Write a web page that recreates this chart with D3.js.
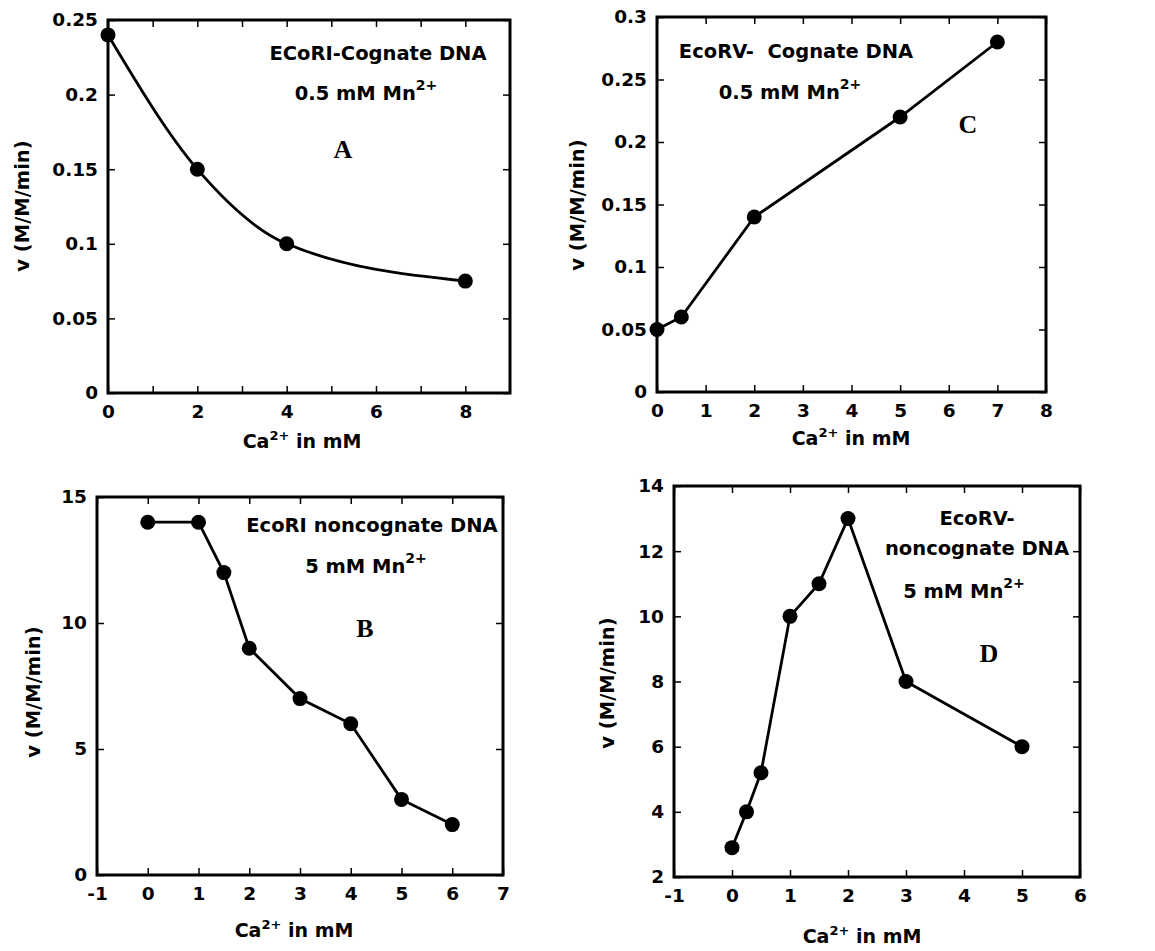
<!DOCTYPE html>
<html>
<head>
<meta charset="utf-8">
<script src="https://cdn.jsdelivr.net/npm/d3@7"></script>
<style>
  body { margin: 0; background: #fff; }
  svg text { font-family: "DejaVu Sans", sans-serif; font-weight: bold; fill: #000; white-space: pre; }
</style>
</head>
<body>
<svg id="chart" width="1155" height="951"></svg>
<script>
// data
var caA = [0, 2, 4, 8];
var vA = [0.24, 0.15, 0.1, 0.075];

var caB = [0, 1, 1.5, 2, 3, 4, 5, 6];
var vB = [14, 14, 12, 9, 7, 6, 3, 2];

var caC = [0, 0.5, 2, 5, 7];
var vC = [0.05, 0.06, 0.14, 0.22, 0.28];

var caD = [0, 0.25, 0.5, 1, 1.5, 2, 3, 5];
var vD = [2.9, 4, 5.2, 10, 11, 13, 8, 6];

var xTicksA = [0, 1, 2, 3, 4, 5, 6, 7, 8];
var yTicksA = [0, 0.05, 0.1, 0.15, 0.2, 0.25];
var xTicksB = [-1, 0, 1, 2, 3, 4, 5, 6, 7];
var yTicksB = [0, 5, 10, 15];
var xTicksC = [0, 1, 2, 3, 4, 5, 6, 7, 8];
var yTicksC = [0, 0.05, 0.1, 0.15, 0.2, 0.25, 0.3];
var xTicksD = [-1, 0, 1, 2, 3, 4, 5, 6];
var yTicksD = [2, 4, 6, 8, 10, 12, 14];

var notesA = ["ECoRI-Cognate DNA", "0.5 mM Mn"];
var notesB = ["EcoRI noncognate DNA", "5 mM Mn"];
var notesC = ["EcoRV-  Cognate DNA", "0.5 mM Mn"];
var notesD = ["EcoRV-", "noncognate DNA", "5 mM Mn"];

var svg = d3.select("#chart");

function fmt(d) { return String(+d.toFixed(2)); }

function drawPanel(p) {
    var x = d3.scaleLinear().domain(p.xDomain).range([p.left, p.right]);
    var y = d3.scaleLinear().domain(p.yDomain).range([p.bottom, p.top]);
    var g = svg.append("g");
    var tk = 7;

    var xAxis = d3.axisBottom(x).tickValues(p.xTicks).tickSizeInner(-tk).tickSizeOuter(0).tickPadding(12)
        .tickFormat(function (d) { return p.xLabelEvery && d % p.xLabelEvery !== 0 ? "" : fmt(d); });
    var yAxis = d3.axisLeft(y).tickValues(p.yTicks).tickSizeInner(-tk).tickSizeOuter(0).tickPadding(10)
        .tickFormat(fmt);

    g.append("g").attr("transform", "translate(0," + p.bottom + ")").call(xAxis);
    g.append("g").attr("transform", "translate(" + p.left + ",0)").call(yAxis);
    g.append("g").attr("transform", "translate(0," + p.top + ")")
        .call(d3.axisTop(x).tickValues(p.xTicks).tickSizeInner(-tk).tickSizeOuter(0).tickFormat(""));
    g.append("g").attr("transform", "translate(" + p.right + ",0)")
        .call(d3.axisRight(y).tickValues(p.yTicks).tickSizeInner(-tk).tickSizeOuter(0).tickFormat(""));

    g.selectAll(".domain").remove();
    g.selectAll(".tick line").attr("stroke", "#000").attr("stroke-width", 1.5);
    g.selectAll(".tick text").style("font-size", "18.5px");

    g.append("rect")
        .attr("x", p.left).attr("y", p.top)
        .attr("width", p.right - p.left).attr("height", p.bottom - p.top)
        .attr("fill", "none").attr("stroke", "#000").attr("stroke-width", 3);

    var pts = p.xs.map(function (d, i) { return [d, p.ys[i]]; });
    var line = d3.line()
        .x(function (d) { return x(d[0]); })
        .y(function (d) { return y(d[1]); })
        .curve(p.curve || d3.curveLinear);

    g.append("path").datum(pts)
        .attr("d", line)
        .attr("fill", "none").attr("stroke", "#000").attr("stroke-width", 2.8);

    g.selectAll("circle.pt").data(pts).enter().append("circle")
        .attr("class", "pt")
        .attr("cx", function (d) { return x(d[0]); })
        .attr("cy", function (d) { return y(d[1]); })
        .attr("r", 7.5)
        .attr("fill", "#000");

    // axis titles
    var xl = g.append("text").attr("x", p.xLab[0]).attr("y", p.xLab[1])
        .attr("text-anchor", "middle").style("font-size", "19px");
    xl.append("tspan").text("Ca");
    xl.append("tspan").attr("dy", -8).style("font-size", "13px").text("2+");
    xl.append("tspan").attr("dy", 8).text(" in mM");

    g.append("text")
        .attr("transform", "translate(" + p.yLab[0] + "," + p.yLab[1] + ") rotate(-90)")
        .attr("text-anchor", "middle").attr("dy", "0.35em")
        .style("font-size", "19.5px")
        .text("v (M/M/min)");

    // notes
    p.notes.forEach(function (t, i) {
        var pos = p.notePos[i];
        var tx = g.append("text").attr("x", pos[0]).attr("y", pos[1])
            .attr("text-anchor", "middle").style("font-size", "19.5px");
        tx.append("tspan").text(t);
        if (i === p.notes.length - 1) {
            tx.append("tspan").attr("dy", -10).style("font-size", "14px").text("2+");
        }
    });

    g.append("text").attr("x", p.letterPos[0]).attr("y", p.letterPos[1])
        .attr("text-anchor", "middle")
        .style("font-family", "'Liberation Serif', serif")
        .style("font-size", "26px")
        .text(p.letter);
}

drawPanel({
    left: 108, right: 510, top: 20, bottom: 393,
    xDomain: [0, 9], yDomain: [0, 0.25], xTicks: xTicksA, yTicks: yTicksA, xLabelEvery: 2,
    xs: caA, ys: vA, curve: d3.curveMonotoneX,
    xLab: [302, 448], yLab: [22, 206],
    notes: notesA, notePos: [[378, 60], [366, 100]],
    letter: "A", letterPos: [343, 158]
});

drawPanel({
    left: 657, right: 1046, top: 17, bottom: 392,
    xDomain: [0, 8], yDomain: [0, 0.3], xTicks: xTicksC, yTicks: yTicksC,
    xs: caC, ys: vC,
    xLab: [851, 445], yLab: [577, 205],
    notes: notesC, notePos: [[796, 58], [790, 99]],
    letter: "C", letterPos: [968, 133]
});

drawPanel({
    left: 97, right: 503, top: 497, bottom: 875,
    xDomain: [-1, 7], yDomain: [0, 15], xTicks: xTicksB, yTicks: yTicksB,
    xs: caB, ys: vB,
    xLab: [294, 937], yLab: [33, 692],
    notes: notesB, notePos: [[372, 532], [366, 573]],
    letter: "B", letterPos: [365, 637]
});

drawPanel({
    left: 674, right: 1080, top: 486, bottom: 877,
    xDomain: [-1, 6], yDomain: [2, 14], xTicks: xTicksD, yTicks: yTicksD,
    xs: caD, ys: vD,
    xLab: [862, 943], yLab: [607, 683],
    notes: notesD, notePos: [[977, 525], [977, 555], [964, 598]],
    letter: "D", letterPos: [989, 662]
});
</script>
</body>
</html>
